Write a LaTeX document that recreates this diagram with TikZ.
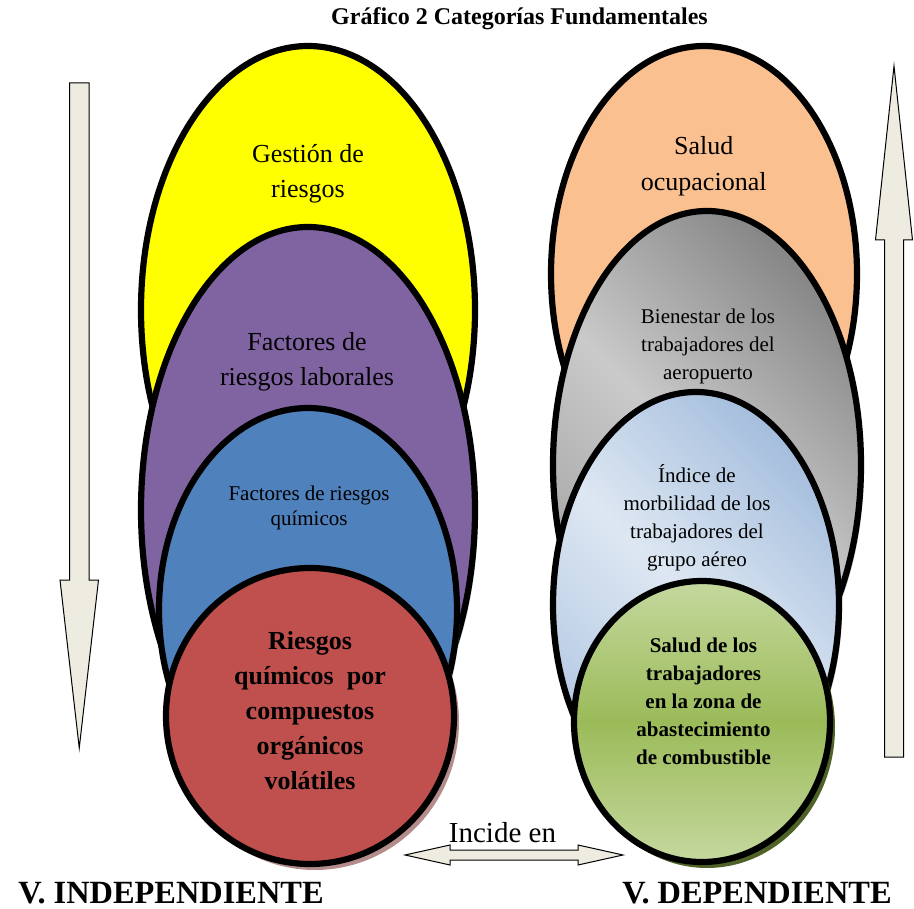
\documentclass[tikz,border=0pt]{standalone}
\usepackage{fontspec}
\setmainfont{Liberation Serif}
\usetikzlibrary{shapes.geometric,shadows}

\definecolor{yellowFill}{HTML}{FFFF00}
\definecolor{purpleFill}{HTML}{8064A2}
\definecolor{blueFill}{HTML}{4F81BD}
\definecolor{redFill}{HTML}{C0504D}
\definecolor{redShadow}{HTML}{B48C8C}
\definecolor{peachFill}{HTML}{FAC090}
\definecolor{grayDark}{HTML}{878787}
\definecolor{grayMid}{HTML}{A0A0A0}
\definecolor{grayLight}{HTML}{CACACA}
\definecolor{iceDark}{HTML}{A5BEDD}
\definecolor{iceMid}{HTML}{B3C8E3}
\definecolor{iceLight}{HTML}{DDE7F2}
\definecolor{greenLight}{HTML}{C5D89E}
\definecolor{greenMid}{HTML}{9BBB59}
\definecolor{greenShadow}{HTML}{4F6228}
\definecolor{arrowFill}{HTML}{EEECE1}

\begin{document}
\begin{tikzpicture}
		[x=1pt,y=-1pt,
			ovalDecorate/.style={shape=ellipse,inner sep=0pt,draw,line width=6.2pt},
			yellowPaint/.style={fill=yellowFill},
			purplePaint/.style={fill=purpleFill,drop shadow={shadow xshift=3pt,shadow yshift=-3pt,fill=black!40,opacity=.4}},
			bluePaint/.style={fill=blueFill,drop shadow={shadow xshift=3pt,shadow yshift=-3pt,fill=black!40,opacity=.4}},
			redPaint/.style={fill=redFill,drop shadow={shadow xshift=5pt,shadow yshift=-6pt,fill=redShadow,opacity=1}},
			peachPaint/.style={fill=peachFill},
			grayPaint/.style={top color=grayDark,bottom color=grayMid,middle color=grayLight,shading angle=-45,
					drop shadow={shadow xshift=3pt,shadow yshift=-3pt,fill=black!40,opacity=.4}},
			icePaint/.style={top color=iceDark,bottom color=iceMid,middle color=iceLight,shading angle=-45,
					drop shadow={shadow xshift=3pt,shadow yshift=-3pt,fill=black!50,opacity=.5}},
			greenPaint/.style={top color=greenLight,bottom color=greenLight,middle color=greenMid,
					drop shadow={shadow xshift=5pt,shadow yshift=-6pt,fill=greenShadow,opacity=1}},
			bigText/.style={align=center,font=\fontsize{26}{35}\selectfont},
			bigBold/.style={align=center,font=\bfseries\fontsize{26}{35}\selectfont},
			smallText/.style={align=center,font=\fontsize{21}{28}\selectfont},
			smallBold/.style={align=center,font=\bfseries\fontsize{21}{28}\selectfont},
			sideLabel/.style={anchor=base,font=\bfseries\fontsize{32.4}{36}\selectfont},
			blockArrow/.style={draw,line width=1pt,fill=arrowFill,line join=miter}]
	\useasboundingbox (0,0) rectangle (914,909);
	\foreach \nodename/\x/\y/\w/\h/\paint in {
			yellowOval/308/310/334/528/yellowPaint, purpleOval/308/510/334/566/purplePaint,
			blueOval/308/610/298/404/bluePaint, redOval/310/716/288/296/redPaint,
			peachOval/704/274/306/456/peachPaint, grayOval/707/465/308/508/grayPaint,
			iceOval/696/605/286/426/icePaint, greenOval/702/721.5/256/281/greenPaint}
		{
			\node (\nodename) at (\x,\y) [ovalDecorate,minimum width=\w,minimum height=\h,\paint] {};
		}
	\node (gestionText) at (308,173.4) [bigText] {Gestión de\\riesgos};
	\node (laboralText) at (307,361.4) [bigText] {Factores de\\riesgos laborales};
	\node (quimicoText) at (309,507.6) [smallText,font=\fontsize{21}{25}\selectfont] {Factores de riesgos\\químicos};
	\node (volatilText) at (310,710.2) [bigBold] {Riesgos\\químicos\ \ por\\compuestos\\orgánicos\\volátiles};
	\node (saludText) at (703.7,165.9) [bigText,font=\fontsize{26}{36}\selectfont] {Salud\\ocupacional};
	\node (bienestarText) at (708,346.8) [smallText] {Bienestar de los\\trabajadores del\\aeropuerto};
	\node (indiceText) at (697,517.6) [smallText] {Índice de\\morbilidad de los\\trabajadores del\\grupo aéreo};
	\node (zonaText) at (703.5,701) [smallBold] {Salud de los\\trabajadores\\en la zona de\\abastecimiento\\de combustible};
	\draw[blockArrow] (69.5,83) -- (89,83) -- (89,580) -- (98.5,580) -- (79.25,748)
		-- (60,580) -- (69.5,580) -- cycle;
	\draw[blockArrow] (894,66) -- (912.5,240) -- (903.5,240) -- (903.5,757) -- (884.5,757)
		-- (884.5,240) -- (875.5,240) -- cycle;
	\draw[blockArrow] (405,855) -- (450,845) -- (450,850) -- (578,850) -- (578,845) -- (623,855)
		-- (578,865) -- (578,860) -- (450,860) -- (450,865) -- cycle;
	\node (incideText) at (502.5,842) [anchor=base,font=\fontsize{29}{34}\selectfont] {Incide en};
	\node (titleText) at (519.5,25) [anchor=base,font=\bfseries\fontsize{24}{28}\selectfont] {Gráfico 2 Categorías Fundamentales};
	\node (independText) at (171,903) [sideLabel] {V. INDEPENDIENTE};
	\node (dependText) at (757,903) [sideLabel] {V. DEPENDIENTE};
\end{tikzpicture}
\end{document}
